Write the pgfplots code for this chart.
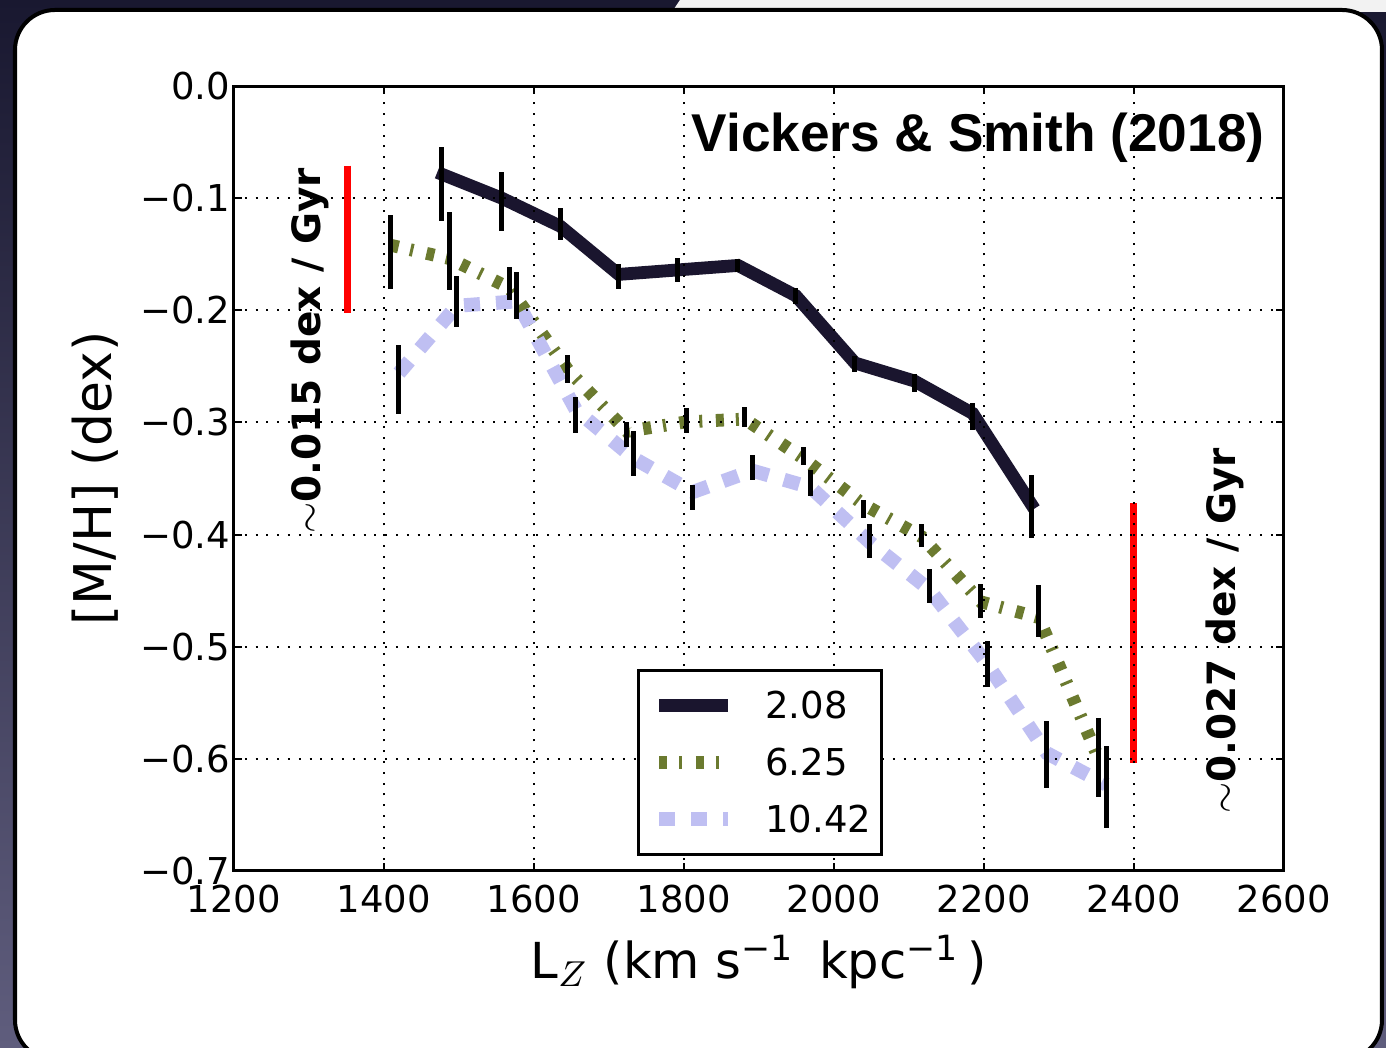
\documentclass[border=0pt]{standalone}
\usepackage{fontspec}
\setmainfont{DejaVu Sans}
\newfontfamily\titlefont{Liberation Sans}
\usepackage{pgfplots}
\usepackage{pgfplotstable}
\pgfplotsset{compat=1.18}
\definecolor{navyc}{RGB}{26,21,46}
\definecolor{olivec}{RGB}{107,122,47}
\definecolor{lavc}{RGB}{191,191,242}
\definecolor{bgtop}{RGB}{25,24,48}
\definecolor{bgbot}{RGB}{95,93,125}

\pgfplotstableread[row sep=\\]{
x y \\
1471 -0.077 \\ 1557 -0.100 \\ 1635 -0.125 \\ 1713 -0.168 \\ 1792 -0.164 \\
1872 -0.160 \\ 1949 -0.187 \\ 2028 -0.247 \\ 2107 -0.263 \\ 2185 -0.292 \\
2267 -0.377 \\
}\lineA
\pgfplotstableread[row sep=\\]{
x y e \\
1477 -0.087 0.033 \\ 1557 -0.103 0.026 \\ 1635 -0.123 0.014 \\ 1713 -0.170 0.011 \\
1792 -0.164 0.011 \\ 1872 -0.160 0.006 \\ 1949 -0.187 0.007 \\ 2028 -0.248 0.007 \\
2107 -0.265 0.008 \\ 2185 -0.295 0.012 \\ 2264 -0.375 0.028 \\
}\errA
\pgfplotstableread[row sep=\\]{
x y \\
1409 -0.142 \\ 1488 -0.154 \\ 1567 -0.180 \\ 1645 -0.253 \\ 1724 -0.308 \\
1803 -0.2995 \\ 1881 -0.297 \\ 1959 -0.332 \\ 2039 -0.373 \\ 2117 -0.402 \\
2196 -0.460 \\ 2273 -0.474 \\ 2353 -0.600 \\
}\lineB
\pgfplotstableread[row sep=\\]{
x y e \\
1409 -0.148 0.033 \\ 1488 -0.147 0.035 \\ 1567 -0.176 0.015 \\ 1645 -0.252 0.0125 \\
1724 -0.311 0.011 \\ 1803 -0.298 0.011 \\ 1881 -0.295 0.009 \\ 1959 -0.330 0.008 \\
2039 -0.377 0.008 \\ 2117 -0.401 0.010 \\ 2196 -0.459 0.015 \\ 2273 -0.468 0.023 \\
2353 -0.599 0.035 \\
}\errB
\pgfplotstableread[row sep=\\]{
x y \\
1420 -0.256 \\ 1497 -0.196 \\ 1577 -0.192 \\ 1656 -0.289 \\ 1733 -0.332 \\
1812 -0.362 \\ 1891 -0.343 \\ 1969 -0.358 \\ 2048 -0.407 \\ 2127 -0.449 \\
2205 -0.516 \\ 2284 -0.595 \\ 2363 -0.623 \\
}\lineC
\pgfplotstableread[row sep=\\]{
x y e \\
1420 -0.2616 0.031 \\ 1497 -0.192 0.023 \\ 1577 -0.187 0.021 \\ 1656 -0.293 0.016 \\
1733 -0.328 0.020 \\ 1812 -0.367 0.011 \\ 1891 -0.340 0.011 \\ 1969 -0.354 0.012 \\
2048 -0.406 0.015 \\ 2127 -0.446 0.015 \\ 2205 -0.515 0.0205 \\ 2284 -0.596 0.030 \\
2363 -0.625 0.0365 \\
}\errC

\pgfplotsset{errstyle/.style={draw=none, no markers, forget plot,
  error bars/.cd, y dir=both, y explicit, error mark=none,
  error bar style={draw=black, line width=1.25pt, solid}}}

\begin{document}
\begin{tikzpicture}[x=1pt,y=1pt]
\path[use as bounding box] (0,0) rectangle (346.5,262);
\begin{scope}
\clip (0,0) rectangle (346.5,262);
\shade[top color=bgtop, bottom color=bgbot] (0,0) rectangle (346.5,262);
\fill[black!5] (168,259) -- (170,262) -- (346.5,262) -- (346.5,259) -- cycle;
\filldraw[fill=white, draw=black, line width=1pt, rounded corners=10pt] (3.75,-3) rectangle (345.5,259.5);
\begin{axis}[
  scale only axis, width=262.5pt, height=196.25pt,
  at={(58.5pt,44.25pt)}, anchor=south west,
  xmin=1200, xmax=2600, ymin=-0.7, ymax=0,
  xtick={1200,1400,1600,1800,2000,2200,2400,2600},
  xticklabels={1200,1400,1600,1800,2000,2200,2400,2600},
  ytick={-0.7,-0.6,-0.5,-0.4,-0.3,-0.2,-0.1,0},
  yticklabels={−0.7,−0.6,−0.5,−0.4,−0.3,−0.2,−0.1,0.0},
  tick label style={font=\fontsize{9.25}{11}\selectfont},
  yticklabel style={xshift=2.5pt},
  grid=major,
  grid style={black, line width=0.5pt, dash pattern=on 0.5pt off 2.2pt},
  axis line style={line width=0.75pt},
  tick align=inside, major tick length=2pt, tick style={black, line width=0.5pt},
  axis on top,
  xlabel={L\textsubscript{$Z$} (km s\textsuperscript{−1}\ \,kpc\textsuperscript{−1}\,)},
  ylabel={[M/H] (dex)},
  xlabel style={font=\fontsize{12.4}{15}\selectfont, at={(axis description cs:0.5,-0.116)}, anchor=center},
  ylabel style={font=\fontsize{13}{15}\selectfont, at={(axis description cs:-0.132,0.5)}, anchor=center},
  legend cell align=left,
  legend image code/.code={\path (0pt,0pt); \draw[#1] (1pt,0pt) -- (18.25pt,0pt);},
  legend style={at={(axis cs:1737,-0.5196)}, anchor=north west, draw=black, line width=0.75pt, fill=white,
    font=\fontsize{9.25}{11}\selectfont, inner xsep=2.5pt, inner ysep=5.4pt,
    row sep=7.45pt, column sep=7.5pt,
    nodes={inner sep=0pt, text height=6.8pt, text depth=0pt}},
]
\addplot[red, line width=1.75pt, forget plot] coordinates {(1351,-0.071) (1351,-0.2025)};
\addplot[red, line width=1.75pt, forget plot] coordinates {(2400,-0.3717) (2400,-0.6034)};

\addplot[navyc, line width=3.2pt, line cap=butt, line join=miter] table[x=x,y=y] {\lineA};
\addlegendentry{2.08}
\addplot[olivec, line width=3.2pt, line cap=butt, dash pattern=on 2pt off 3pt on 0.75pt off 3.4pt] table[x=x,y=y] {\lineB};
\addlegendentry{6.25}
\addplot[lavc, line width=3.5pt, line cap=butt, dash pattern=on 4pt off 4pt] table[x=x,y=y] {\lineC};
\addlegendentry{10.42}

\addplot[errstyle] table[x=x,y=y,y error=e] {\errA};
\addplot[errstyle] table[x=x,y=y,y error=e] {\errB};
\addplot[errstyle] table[x=x,y=y,y error=e] {\errC};

\node[anchor=east, inner sep=0pt, font=\titlefont\bfseries\fontsize{13.3}{16}\selectfont] at (axis cs:2575,-0.046) {Vickers \& Smith (2018)};
\node[rotate=90, anchor=base west, inner sep=0pt, font=\bfseries\fontsize{9.75}{12}\selectfont] at (axis cs:1315,-0.400) {$\sim$0.015 dex / Gyr};
\node[rotate=90, anchor=base west, inner sep=0pt, font=\bfseries\fontsize{9.75}{12}\selectfont] at (axis cs:2535,-0.6497) {$\sim$0.027 dex / Gyr};
\end{axis}
\end{scope}
\end{tikzpicture}
\end{document}
